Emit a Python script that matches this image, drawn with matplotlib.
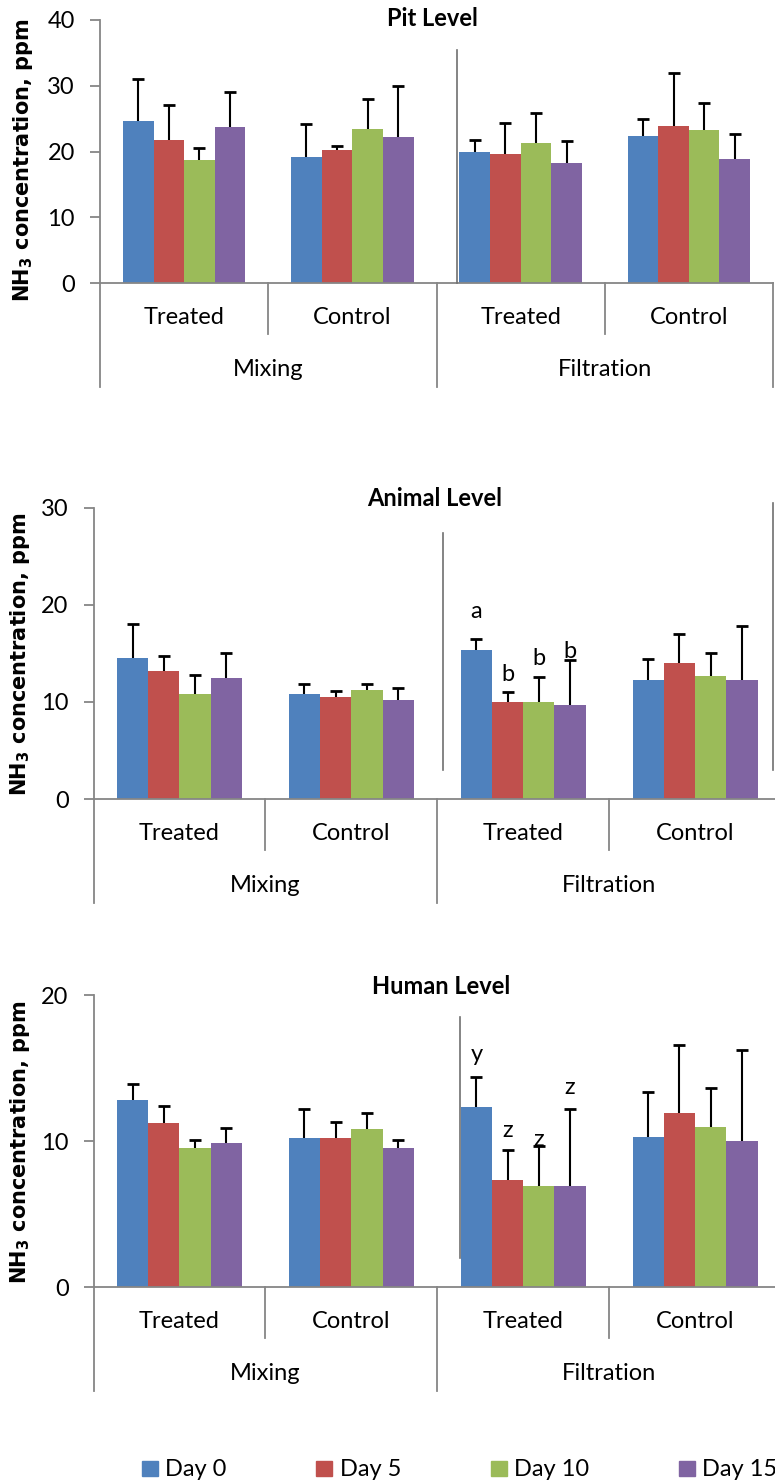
import matplotlib
matplotlib.use('Agg')
import matplotlib.pyplot as plt
import matplotlib.transforms as mtransforms
from matplotlib.patches import Patch

plt.rcParams['font.family'] = 'Lato'
plt.rcParams['mathtext.fontset'] = 'dejavusans'
plt.rcParams['mathtext.default'] = 'bf'

W, H = 775, 1483

days = ['Day 0', 'Day 5', 'Day 10', 'Day 15']
colors = ['#4F81BD', '#C0504D', '#9BBB59', '#8064A2']
groups = ['Treated', 'Control', 'Treated', 'Control']
systems = ['Mixing', 'Filtration']

# means (rows = day, cols = group) and upper SD
pit_mean = [[24.7, 19.1, 19.9, 22.3],
            [21.8, 20.2, 19.6, 23.9],
            [18.7, 23.4, 21.3, 23.3],
            [23.7, 22.2, 18.3, 18.9]]
pit_sd = [[6.3, 5.1, 1.9, 2.6],
          [5.3, 0.6, 4.7, 8.1],
          [1.9, 4.6, 4.5, 4.1],
          [5.3, 7.7, 3.3, 3.7]]

animal_mean = [[14.5, 10.85, 15.3, 12.3],
               [13.2, 10.5, 10.0, 14.0],
               [10.8, 11.2, 10.0, 12.7],
               [12.5, 10.2, 9.65, 12.3]]
animal_sd = [[3.5, 0.95, 1.2, 2.1],
             [1.5, 0.6, 1.0, 3.0],
             [2.0, 0.6, 2.6, 2.3],
             [2.5, 1.2, 4.65, 5.55]]
animal_letters = ['a', 'b', 'b', 'b']
animal_letter_y = [19.3, 12.8, 14.5, 15.2]

human_mean = [[12.8, 10.2, 12.3, 10.3],
              [11.2, 10.2, 7.3, 11.95],
              [9.5, 10.85, 6.95, 10.95],
              [9.85, 9.55, 6.95, 9.97]]
human_sd = [[1.1, 2.0, 2.1, 3.05],
            [1.2, 1.1, 2.1, 4.6],
            [0.6, 1.05, 2.7, 2.7],
            [1.05, 0.55, 5.25, 6.23]]
human_letters = ['y', 'z', 'z', 'z']
human_letter_y = [15.9, 10.75, 10.1, 13.65]

fig = plt.figure(figsize=(W / 100, H / 100), dpi=100)
# pixel coords (origin top-left) -> figure
pix = mtransforms.Affine2D().scale(1 / W, -1 / H).translate(0, 1) + fig.transFigure

grey = '#868686'
fs = 17

panels = [
    dict(rect=(100, 773, 20, 283), ymax=40, title='Pit Level', title_xy=(432, 19),
         mean=pit_mean, sd=pit_sd, ylab_xy=(23, 160), letters=None, letter_y=None,
         strays=[(457, 50, 283)]),
    dict(rect=(93.5, 781, 507.7, 799), ymax=30, title='Animal Level', title_xy=(435, 498),
         mean=animal_mean, sd=animal_sd, ylab_xy=(20, 654), letters=animal_letters,
         letter_y=animal_letter_y, strays=[(442.5, 533, 770), (773, 503, 770)]),
    dict(rect=(93.5, 781, 995, 1287), ymax=20, title='Human Level', title_xy=(441, 987),
         mean=human_mean, sd=human_sd, ylab_xy=(20, 1142), letters=human_letters,
         letter_y=human_letter_y, strays=[(459.5, 1017, 1258)]),
]

bw = 1 / 5.5

for p in panels:
    l, r, t, b = p['rect']
    ax = fig.add_axes([l / W, 1 - b / H, (r - l) / W, (b - t) / H])
    for s in range(4):
        xs = [g + (0.75 + s + 0.5) * bw for g in range(4)]
        tops = [m + e for m, e in zip(p['mean'][s], p['sd'][s])]
        ax.bar(xs, p['mean'][s], width=bw, color=colors[s], label=days[s], zorder=2)
        # upper error bar only
        ax.vlines(xs, p['mean'][s], tops, color='black', lw=1.5, zorder=3)
        ax.plot(xs, tops, ls='none', marker='_', ms=9, mew=2, color='black', zorder=3,
                clip_on=False)
    if p['letters']:
        for s in range(4):
            ax.text(2 + (0.75 + s + 0.5) * bw, p['letter_y'][s], p['letters'][s],
                    ha='center', va='center', fontsize=fs)

    ax.set_xlim(0, 4)
    ax.set_ylim(0, p['ymax'])
    ax.set_yticks(range(0, p['ymax'] + 1, 10))
    ax.set_xticks([])
    for side in ['top', 'right']:
        ax.spines[side].set_visible(False)
    for side in ['left', 'bottom']:
        ax.spines[side].set_color(grey)
        ax.spines[side].set_linewidth(1.3)
    ax.tick_params(axis='y', length=7, width=1.3, color=grey, pad=11, labelsize=fs)

    # two-level category axis
    blend = mtransforms.blended_transform_factory(ax.transData, pix)
    for gx in range(5):
        depth = 104 if gx % 2 == 0 else 51
        ax.plot([gx, gx], [b, b + depth], color=grey, lw=1.3, transform=blend, clip_on=False)
    for g, name in enumerate(groups):
        ax.text(g + 0.5, b + 35, name, transform=blend, ha='center', va='center', fontsize=fs)
    for k, name in enumerate(systems):
        ax.text(2 * k + 1, b + 86, name, transform=blend, ha='center', va='center', fontsize=fs)

    for sx, y0, y1 in p['strays']:
        fig.add_artist(plt.Line2D([sx, sx], [y0, y1], color='#707070', lw=1.2, transform=pix))

    fig.text(p['title_xy'][0], p['title_xy'][1], p['title'], transform=pix,
             ha='center', va='center', fontsize=17, fontweight='bold')
    fig.text(p['ylab_xy'][0], p['ylab_xy'][1], 'NH$_3$ concentration, ppm', transform=pix,
             ha='center', va='center', rotation=90, fontsize=15, fontweight='bold',
             family='DejaVu Sans')

handles = [Patch(color=c, label=d) for c, d in zip(colors, days)]
fig.legend(handles=handles, loc='center', ncol=4, frameon=False, fontsize=fs,
           bbox_to_anchor=(459.5 / W, 1 - 1470 / H), handlelength=0.68, handleheight=0.6,
           handletextpad=0.3, columnspacing=3.8, borderpad=0)

fig.savefig('out.png', dpi=100)
